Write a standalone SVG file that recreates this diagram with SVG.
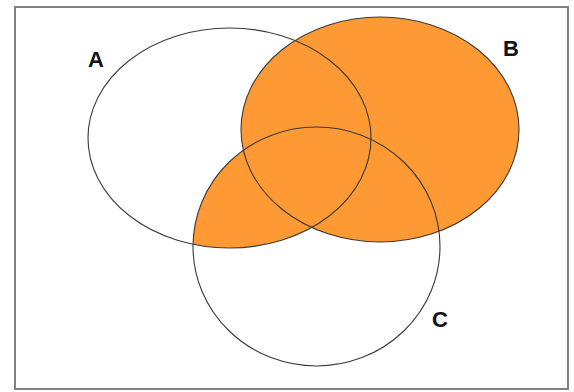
<svg xmlns="http://www.w3.org/2000/svg" width="574" height="392" viewBox="0 0 574 392">
  <style>
    .outline { fill: none; stroke: #3a3a3a; stroke-width: 1.1; }
    .shade { fill: #FF9933; stroke: none; }
    .label { font-family: "Liberation Sans", Arial, sans-serif; font-weight: bold; font-size: 22px; fill: #111; }
  </style>
  <defs>
    <clipPath id="clipA">
      <ellipse cx="229.5" cy="138" rx="141.5" ry="110"/>
    </clipPath>
  </defs>
  <rect x="0" y="0" width="574" height="392" fill="#fff"/>
  <rect id="frame" x="15" y="7" width="553" height="382" fill="#fff" stroke="#808080" stroke-width="2"/>
  <g id="shading">
    <ellipse class="shade" cx="380" cy="129.5" rx="139" ry="112.5"/>
    <ellipse class="shade" cx="316.5" cy="246.5" rx="123.5" ry="119.5" clip-path="url(#clipA)"/>
  </g>
  <g id="setA">
    <ellipse class="outline" cx="229.5" cy="138" rx="141.5" ry="110"/>
    <text class="label" x="88" y="67">A</text>
  </g>
  <g id="setB">
    <ellipse class="outline" cx="380" cy="129.5" rx="139" ry="112.5"/>
    <text class="label" x="503" y="56">B</text>
  </g>
  <g id="setC">
    <ellipse class="outline" cx="316.5" cy="246.5" rx="123.5" ry="119.5"/>
    <text class="label" x="432" y="327">C</text>
  </g>
  <g id="connectors"/>
</svg>
